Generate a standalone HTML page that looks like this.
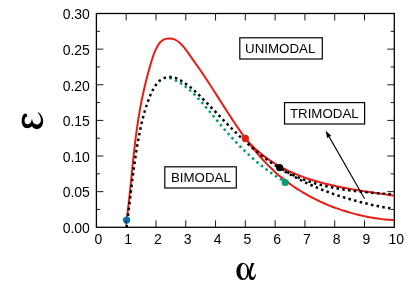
<!DOCTYPE html>
<html><head><meta charset="utf-8"><title>Phase diagram</title>
<style>
html,body{margin:0;padding:0;background:#fff;}
body{width:415px;height:291px;overflow:hidden;font-family:"Liberation Sans",sans-serif;}
svg{display:block;transform:translateZ(0);will-change:transform;}
svg text{font-family:"Liberation Sans",sans-serif;fill:#000;}
.sym{font-family:"Liberation Serif",serif;}
</style></head><body>
<svg width="415" height="291" viewBox="0 0 415 291">
<rect width="415" height="291" fill="#fff"/>
<g fill="none" stroke="#e81c12" stroke-width="2" stroke-linejoin="round">
<path d="M126.60 220.10 C126.70 219.35 127.00 217.11 127.20 215.61 C127.39 214.11 127.58 212.61 127.76 211.11 C127.95 209.61 128.13 208.11 128.31 206.61 C128.48 205.11 128.66 203.60 128.83 202.10 C129.00 200.60 129.16 199.09 129.33 197.59 C129.49 196.09 129.65 194.58 129.81 193.07 C129.97 191.57 130.13 190.06 130.29 188.56 C130.44 187.05 130.60 185.54 130.75 184.04 C130.90 182.53 131.05 181.02 131.21 179.51 C131.36 178.01 131.51 176.50 131.66 174.99 C131.81 173.48 131.96 171.97 132.12 170.47 C132.27 168.96 132.42 167.45 132.58 165.94 C132.73 164.44 132.88 162.93 133.04 161.42 C133.20 159.91 133.36 158.41 133.52 156.90 C133.68 155.39 133.84 153.89 134.01 152.38 C134.17 150.88 134.34 149.37 134.51 147.86 C134.68 146.36 134.86 144.86 135.04 143.35 C135.22 141.85 135.40 140.35 135.59 138.84 C135.77 137.34 135.96 135.84 136.16 134.34 C136.36 132.84 136.56 131.34 136.76 129.84 C136.97 128.34 137.18 126.84 137.40 125.35 C137.62 123.85 137.84 122.36 138.07 120.86 C138.31 119.37 138.54 117.88 138.79 116.38 C139.03 114.89 139.28 113.40 139.54 111.91 C139.80 110.42 140.07 108.94 140.34 107.45 C140.61 105.96 140.90 104.48 141.18 103.00 C141.47 101.51 141.77 100.03 142.07 98.55 C142.38 97.07 142.69 95.59 143.01 94.12 C143.33 92.64 143.66 91.16 143.99 89.69 C144.33 88.22 144.67 86.74 145.02 85.27 C145.37 83.80 145.73 82.34 146.10 80.87 C146.46 79.40 146.84 77.94 147.22 76.47 C147.60 75.01 147.99 73.55 148.39 72.09 C148.79 70.63 149.20 69.17 149.61 67.72 C150.03 66.26 150.45 64.81 150.88 63.36 C151.31 61.90 151.74 60.45 152.20 59.01 C152.66 57.56 153.12 56.12 153.65 54.69 C154.17 53.25 154.72 51.83 155.36 50.42 C156.00 49.01 156.68 47.59 157.48 46.24 C158.29 44.89 159.14 43.42 160.19 42.30 C161.23 41.19 162.44 40.18 163.74 39.54 C165.04 38.90 166.56 38.56 168.01 38.44 C169.46 38.32 171.03 38.49 172.46 38.83 C173.89 39.17 175.28 39.77 176.58 40.50 C177.87 41.22 179.06 42.17 180.21 43.18 C181.36 44.19 182.42 45.38 183.45 46.58 C184.49 47.79 185.45 49.11 186.41 50.41 C187.36 51.70 188.27 53.06 189.17 54.35 C190.08 55.64 190.96 56.92 191.84 58.16 C192.72 59.41 193.58 60.62 194.44 61.83 C195.30 63.04 196.14 64.23 196.99 65.42 C197.83 66.62 198.67 67.80 199.50 69.00 C200.34 70.20 201.17 71.41 201.99 72.63 C202.82 73.84 203.64 75.07 204.47 76.30 C205.29 77.52 206.11 78.76 206.92 80.00 C207.74 81.24 208.55 82.49 209.37 83.75 C210.18 85.00 210.99 86.26 211.81 87.52 C212.62 88.78 213.43 90.04 214.24 91.31 C215.05 92.58 215.86 93.86 216.67 95.13 C217.48 96.40 218.30 97.68 219.11 98.96 C219.92 100.24 220.74 101.52 221.55 102.80 C222.37 104.08 223.19 105.37 224.01 106.65 C224.83 107.93 225.65 109.21 226.48 110.50 C227.30 111.78 228.13 113.06 228.96 114.34 C229.79 115.62 230.63 116.89 231.47 118.17 C232.31 119.44 233.16 120.72 234.00 121.99 C234.85 123.26 235.71 124.52 236.57 125.78 C237.43 127.05 238.29 128.30 239.16 129.56 C240.04 130.81 240.91 132.06 241.80 133.30 C242.68 134.54 243.57 135.78 244.47 137.01 C245.37 138.24 246.27 139.47 247.19 140.68 C248.10 141.90 249.02 143.11 249.95 144.31 C250.88 145.51 251.82 146.70 252.77 147.89 C253.72 149.07 254.67 150.24 255.64 151.41 C256.61 152.57 257.58 153.73 258.57 154.87 C259.56 156.02 260.56 157.15 261.56 158.28 C262.57 159.40 263.59 160.51 264.62 161.61 C265.65 162.71 266.70 163.79 267.75 164.87 C268.81 165.94 269.87 167.00 270.95 168.05 C272.04 169.09 273.13 170.13 274.23 171.15 C275.34 172.16 276.46 173.17 277.60 174.15 C278.73 175.14 279.88 176.11 281.04 177.07 C282.20 178.03 283.38 178.97 284.56 179.90 C285.75 180.82 286.95 181.73 288.16 182.63 C289.37 183.53 290.60 184.41 291.83 185.27 C293.07 186.14 294.32 186.98 295.58 187.82 C296.84 188.65 298.11 189.47 299.39 190.27 C300.67 191.08 301.96 191.86 303.26 192.63 C304.56 193.41 305.87 194.16 307.19 194.90 C308.52 195.64 309.85 196.37 311.19 197.08 C312.53 197.79 313.87 198.48 315.23 199.16 C316.59 199.83 317.96 200.50 319.33 201.14 C320.70 201.79 322.09 202.42 323.48 203.03 C324.86 203.65 326.26 204.25 327.67 204.83 C329.07 205.41 330.48 205.98 331.90 206.53 C333.32 207.08 334.74 207.62 336.17 208.13 C337.60 208.65 339.04 209.16 340.48 209.64 C341.92 210.13 343.37 210.60 344.82 211.06 C346.27 211.51 347.73 211.95 349.19 212.37 C350.65 212.80 352.11 213.20 353.58 213.60 C355.05 213.99 356.52 214.36 358.00 214.72 C359.48 215.08 360.96 215.42 362.44 215.75 C363.92 216.07 365.41 216.38 366.89 216.68 C368.38 216.97 369.87 217.25 371.36 217.51 C372.85 217.77 374.35 218.02 375.84 218.24 C377.33 218.47 378.83 218.68 380.33 218.88 C381.82 219.08 383.32 219.26 384.82 219.42 C386.31 219.58 387.81 219.73 389.31 219.86 C390.81 219.99 393.05 220.14 393.80 220.20"/>
<path d="M245.40 138.30 C245.87 138.85 247.27 140.51 248.22 141.58 C249.18 142.64 250.15 143.69 251.14 144.71 C252.13 145.73 253.13 146.73 254.14 147.70 C255.16 148.67 256.19 149.63 257.23 150.56 C258.27 151.49 259.33 152.39 260.40 153.28 C261.47 154.17 262.55 155.03 263.65 155.88 C264.75 156.72 265.85 157.55 266.97 158.35 C268.09 159.15 269.23 159.94 270.37 160.70 C271.51 161.47 272.67 162.21 273.83 162.94 C275.00 163.67 276.18 164.37 277.36 165.06 C278.55 165.75 279.75 166.43 280.96 167.08 C282.16 167.73 283.38 168.37 284.61 168.99 C285.83 169.61 287.07 170.22 288.31 170.80 C289.56 171.39 290.81 171.96 292.07 172.52 C293.34 173.07 294.61 173.61 295.88 174.14 C297.16 174.67 298.45 175.18 299.74 175.67 C301.03 176.17 302.33 176.65 303.64 177.12 C304.94 177.59 306.26 178.05 307.58 178.49 C308.90 178.94 310.22 179.37 311.55 179.78 C312.88 180.20 314.22 180.61 315.56 181.00 C316.90 181.40 318.25 181.78 319.60 182.15 C320.95 182.53 322.31 182.89 323.67 183.24 C325.03 183.59 326.39 183.93 327.76 184.27 C329.12 184.60 330.49 184.92 331.87 185.23 C333.24 185.55 334.62 185.85 335.99 186.15 C337.37 186.45 338.75 186.73 340.14 187.01 C341.52 187.30 342.90 187.57 344.29 187.83 C345.67 188.10 347.06 188.36 348.45 188.61 C349.84 188.87 351.22 189.11 352.61 189.36 C354.00 189.60 355.39 189.83 356.78 190.07 C358.17 190.30 359.56 190.52 360.94 190.75 C362.33 190.97 363.72 191.19 365.10 191.40 C366.49 191.61 367.87 191.82 369.25 192.03 C370.63 192.24 372.01 192.45 373.39 192.65 C374.77 192.85 376.14 193.05 377.52 193.25 C378.89 193.45 380.26 193.65 381.62 193.84 C382.99 194.04 384.35 194.23 385.71 194.43 C387.06 194.62 388.42 194.82 389.77 195.01 C391.12 195.21 393.13 195.50 393.80 195.60"/>
</g>
<path d="M169.50 77.80 C169.92 77.96 171.21 78.42 172.04 78.76 C172.88 79.10 173.69 79.47 174.50 79.85 C175.31 80.22 176.10 80.62 176.88 81.04 C177.66 81.45 178.42 81.88 179.18 82.33 C179.93 82.78 180.68 83.24 181.41 83.72 C182.14 84.20 182.86 84.69 183.58 85.20 C184.29 85.71 184.99 86.23 185.68 86.76 C186.37 87.30 187.05 87.84 187.73 88.40 C188.40 88.96 189.07 89.53 189.72 90.10 C190.38 90.68 191.03 91.27 191.67 91.87 C192.31 92.47 192.95 93.07 193.58 93.69 C194.21 94.30 194.83 94.93 195.45 95.56 C196.07 96.19 196.68 96.82 197.28 97.46 C197.89 98.11 198.49 98.75 199.09 99.40 C199.69 100.06 200.29 100.71 200.88 101.37 C201.47 102.03 202.06 102.70 202.65 103.36 C203.23 104.03 203.81 104.70 204.40 105.37 C204.98 106.04 205.55 106.71 206.13 107.39 C206.71 108.06 207.28 108.74 207.86 109.42 C208.43 110.10 209.00 110.78 209.57 111.46 C210.14 112.15 210.71 112.83 211.28 113.52 C211.85 114.20 212.41 114.89 212.98 115.57 C213.55 116.26 214.11 116.95 214.68 117.64 C215.25 118.32 215.81 119.01 216.38 119.70 C216.95 120.39 217.52 121.07 218.08 121.76 C218.65 122.45 219.22 123.14 219.79 123.82 C220.36 124.51 220.93 125.19 221.50 125.87 C222.08 126.56 222.65 127.24 223.22 127.92 C223.80 128.60 224.38 129.28 224.96 129.96 C225.54 130.63 226.12 131.31 226.70 131.98 C227.29 132.65 227.87 133.32 228.46 133.99 C229.05 134.66 229.65 135.32 230.24 135.98 C230.84 136.64 231.44 137.30 232.04 137.96 C232.64 138.62 233.24 139.27 233.85 139.92 C234.46 140.57 235.07 141.22 235.68 141.86 C236.29 142.51 236.90 143.15 237.52 143.79 C238.14 144.43 238.76 145.07 239.39 145.70 C240.01 146.33 240.64 146.96 241.27 147.59 C241.90 148.21 242.53 148.84 243.16 149.46 C243.80 150.08 244.44 150.69 245.08 151.31 C245.72 151.92 246.37 152.53 247.01 153.14 C247.66 153.74 248.31 154.35 248.97 154.94 C249.62 155.54 250.28 156.14 250.94 156.73 C251.60 157.32 252.26 157.91 252.92 158.50 C253.59 159.08 254.26 159.66 254.93 160.24 C255.60 160.82 256.28 161.39 256.96 161.96 C257.64 162.53 258.32 163.10 259.00 163.66 C259.69 164.22 260.38 164.78 261.07 165.33 C261.76 165.88 262.45 166.43 263.15 166.98 C263.85 167.52 264.55 168.07 265.26 168.60 C265.96 169.14 266.67 169.67 267.38 170.20 C268.09 170.73 268.81 171.25 269.52 171.77 C270.24 172.29 270.96 172.81 271.69 173.32 C272.41 173.83 273.14 174.33 273.87 174.84 C274.60 175.34 275.34 175.83 276.07 176.33 C276.81 176.82 277.55 177.31 278.30 177.79 C279.04 178.27 279.79 178.75 280.54 179.22 C281.30 179.69 282.05 180.16 282.81 180.63 C283.57 181.09 284.72 181.77 285.10 182.00" fill="none" stroke="#009e73" stroke-width="2.5" stroke-dasharray="2.5 3.3"/>
<g fill="none" stroke="#000" stroke-width="2.5" stroke-dasharray="2.5 3.3">
<path d="M126.60 227.30 C126.67 226.76 126.87 225.13 127.01 224.04 C127.15 222.96 127.28 221.87 127.42 220.78 C127.55 219.69 127.68 218.60 127.82 217.51 C127.95 216.41 128.08 215.32 128.21 214.22 C128.34 213.13 128.48 212.03 128.61 210.93 C128.74 209.83 128.87 208.74 129.00 207.64 C129.13 206.54 129.26 205.43 129.39 204.33 C129.52 203.23 129.64 202.13 129.77 201.02 C129.90 199.92 130.03 198.82 130.16 197.71 C130.29 196.61 130.43 195.50 130.56 194.39 C130.69 193.29 130.82 192.18 130.95 191.07 C131.08 189.97 131.22 188.86 131.35 187.75 C131.48 186.65 131.62 185.54 131.75 184.43 C131.89 183.32 132.03 182.22 132.17 181.11 C132.30 180.00 132.44 178.89 132.58 177.79 C132.72 176.68 132.87 175.57 133.01 174.46 C133.15 173.36 133.30 172.25 133.44 171.14 C133.59 170.04 133.74 168.93 133.89 167.83 C134.04 166.72 134.19 165.62 134.35 164.52 C134.50 163.41 134.66 162.31 134.82 161.21 C134.98 160.11 135.14 159.00 135.30 157.90 C135.47 156.80 135.63 155.70 135.80 154.61 C135.97 153.51 136.14 152.41 136.31 151.32 C136.49 150.22 136.67 149.13 136.85 148.03 C137.03 146.94 137.21 145.85 137.39 144.76 C137.58 143.67 137.77 142.58 137.96 141.50 C138.16 140.41 138.35 139.32 138.55 138.24 C138.75 137.16 138.95 136.08 139.16 135.00 C139.37 133.92 139.58 132.84 139.79 131.76 C140.01 130.69 140.23 129.61 140.45 128.54 C140.68 127.47 140.91 126.40 141.14 125.33 C141.38 124.26 141.62 123.19 141.88 122.12 C142.13 121.06 142.39 119.99 142.65 118.92 C142.92 117.86 143.20 116.79 143.48 115.73 C143.77 114.66 144.06 113.60 144.37 112.54 C144.67 111.47 144.99 110.41 145.32 109.35 C145.64 108.28 145.98 107.22 146.33 106.16 C146.69 105.09 147.05 104.03 147.43 102.97 C147.80 101.90 148.19 100.84 148.60 99.77 C149.00 98.71 149.42 97.64 149.86 96.57 C150.29 95.51 150.74 94.43 151.21 93.37 C151.68 92.32 152.17 91.26 152.69 90.23 C153.21 89.21 153.75 88.20 154.33 87.24 C154.91 86.27 155.52 85.34 156.17 84.46 C156.82 83.59 157.51 82.76 158.25 82.00 C158.99 81.25 159.77 80.54 160.61 79.94 C161.45 79.33 162.34 78.79 163.29 78.35 C164.23 77.92 165.26 77.57 166.30 77.33 C167.34 77.09 168.45 76.94 169.54 76.91 C170.63 76.88 171.76 76.96 172.85 77.15 C173.93 77.34 175.01 77.67 176.05 78.07 C177.09 78.47 178.09 79.01 179.08 79.54 C180.07 80.07 181.04 80.67 181.99 81.26 C182.94 81.85 183.87 82.46 184.78 83.09 C185.70 83.72 186.60 84.37 187.49 85.03 C188.37 85.70 189.24 86.38 190.10 87.07 C190.96 87.76 191.81 88.47 192.65 89.19 C193.48 89.91 194.31 90.64 195.12 91.38 C195.94 92.12 196.75 92.87 197.55 93.63 C198.35 94.39 199.14 95.16 199.93 95.93 C200.72 96.70 201.51 97.49 202.29 98.27 C203.07 99.05 203.84 99.85 204.62 100.64 C205.39 101.43 206.16 102.22 206.94 103.02 C207.71 103.82 208.48 104.61 209.25 105.41 C210.02 106.21 210.80 107.01 211.57 107.81 C212.34 108.61 213.11 109.41 213.88 110.21 C214.65 111.01 215.42 111.81 216.20 112.61 C216.97 113.42 217.74 114.22 218.51 115.02 C219.29 115.82 220.06 116.62 220.84 117.42 C221.61 118.22 222.39 119.02 223.16 119.82 C223.94 120.62 224.72 121.41 225.50 122.21 C226.28 123.01 227.06 123.80 227.84 124.59 C228.62 125.39 229.40 126.18 230.19 126.97 C230.98 127.75 231.76 128.54 232.55 129.33 C233.34 130.11 234.13 130.89 234.93 131.67 C235.72 132.45 236.52 133.23 237.31 134.00 C238.11 134.78 238.91 135.55 239.72 136.31 C240.52 137.08 241.33 137.85 242.14 138.61 C242.95 139.37 243.76 140.12 244.57 140.87 C245.39 141.63 246.21 142.37 247.03 143.12 C247.85 143.86 248.68 144.60 249.51 145.33 C250.34 146.07 251.17 146.80 252.01 147.52 C252.84 148.25 253.68 148.97 254.53 149.68 C255.37 150.39 256.22 151.10 257.08 151.81 C257.93 152.51 258.79 153.20 259.65 153.90 C260.51 154.59 261.38 155.27 262.25 155.95 C263.12 156.63 264.00 157.30 264.88 157.96 C265.76 158.63 266.65 159.28 267.54 159.94 C268.43 160.59 269.33 161.23 270.23 161.87 C271.13 162.51 272.04 163.14 272.95 163.76 C273.86 164.38 274.78 165.00 275.70 165.61 C276.62 166.22 277.55 166.83 278.48 167.43 C279.40 168.02 280.34 168.61 281.28 169.20 C282.21 169.78 283.16 170.36 284.10 170.93 C285.05 171.50 286.00 172.07 286.96 172.62 C287.91 173.18 288.87 173.73 289.83 174.28 C290.80 174.82 291.76 175.36 292.73 175.90 C293.71 176.43 294.68 176.95 295.66 177.47 C296.64 177.99 297.62 178.51 298.60 179.01 C299.59 179.52 300.58 180.02 301.57 180.52 C302.56 181.01 303.56 181.50 304.56 181.98 C305.56 182.46 306.56 182.94 307.57 183.41 C308.57 183.88 309.58 184.34 310.59 184.80 C311.61 185.26 312.62 185.71 313.64 186.15 C314.66 186.60 315.68 187.04 316.70 187.47 C317.72 187.91 318.75 188.33 319.78 188.75 C320.81 189.18 321.84 189.59 322.88 190.00 C323.91 190.41 324.95 190.81 325.99 191.21 C327.03 191.61 328.07 192.00 329.11 192.39 C330.16 192.77 331.20 193.15 332.25 193.53 C333.30 193.90 334.35 194.27 335.40 194.63 C336.46 194.99 337.51 195.35 338.57 195.70 C339.62 196.05 340.68 196.40 341.74 196.74 C342.80 197.08 343.87 197.41 344.93 197.74 C345.99 198.07 347.06 198.39 348.13 198.71 C349.19 199.03 350.26 199.34 351.33 199.65 C352.40 199.95 353.47 200.25 354.55 200.55 C355.62 200.84 356.69 201.13 357.77 201.42 C358.84 201.70 359.92 201.98 361.00 202.26 C362.07 202.53 363.15 202.80 364.23 203.06 C365.31 203.32 366.39 203.58 367.47 203.83 C368.55 204.09 369.64 204.33 370.72 204.58 C371.80 204.82 372.88 205.05 373.97 205.29 C375.05 205.52 376.13 205.74 377.22 205.96 C378.30 206.18 379.39 206.40 380.47 206.61 C381.56 206.82 382.64 207.03 383.73 207.23 C384.81 207.43 385.90 207.63 386.99 207.82 C388.07 208.01 389.16 208.19 390.24 208.37 C391.33 208.55 392.96 208.81 393.50 208.90"/>
<path d="M279.60 167.60 C280.18 167.96 281.93 169.06 283.10 169.76 C284.28 170.46 285.47 171.14 286.66 171.79 C287.86 172.45 289.06 173.08 290.27 173.69 C291.48 174.30 292.70 174.90 293.93 175.47 C295.16 176.04 296.39 176.59 297.64 177.13 C298.88 177.66 300.13 178.18 301.38 178.67 C302.64 179.17 303.91 179.65 305.18 180.11 C306.45 180.57 307.72 181.02 309.00 181.45 C310.29 181.88 311.58 182.29 312.87 182.68 C314.16 183.08 315.46 183.46 316.77 183.83 C318.07 184.19 319.38 184.54 320.70 184.88 C322.01 185.22 323.33 185.54 324.65 185.86 C325.97 186.17 327.30 186.46 328.63 186.75 C329.96 187.03 331.30 187.31 332.64 187.57 C333.97 187.83 335.31 188.08 336.66 188.32 C338.00 188.56 339.35 188.79 340.70 189.01 C342.05 189.23 343.40 189.44 344.75 189.64 C346.10 189.85 347.46 190.04 348.82 190.22 C350.17 190.41 351.53 190.58 352.89 190.75 C354.25 190.92 355.61 191.08 356.97 191.24 C358.33 191.39 359.69 191.54 361.05 191.69 C362.41 191.83 363.77 191.97 365.13 192.10 C366.49 192.24 367.85 192.36 369.21 192.49 C370.57 192.62 371.93 192.74 373.29 192.85 C374.65 192.97 376.00 193.09 377.36 193.20 C378.71 193.31 380.07 193.42 381.42 193.53 C382.77 193.64 384.11 193.75 385.46 193.86 C386.81 193.96 388.15 194.07 389.49 194.18 C390.83 194.29 392.83 194.45 393.50 194.50" stroke-dashoffset="-3"/>
</g>
<rect x="239.8" y="37.8" width="82.50" height="21.20" fill="#fff" stroke="#000" stroke-width="1.2"/><text x="280.20" y="53.40" text-anchor="middle" font-size="13.3">UNIMODAL</text>
<rect x="284.55" y="102.6" width="80.05" height="21.40" fill="#fff" stroke="#000" stroke-width="1.2"/><text x="324.30" y="117.60" text-anchor="middle" font-size="13.3">TRIMODAL</text>
<rect x="164.8" y="166.8" width="71.50" height="21.20" fill="#fff" stroke="#000" stroke-width="1.2"/><text x="200.90" y="181.50" text-anchor="middle" font-size="13.3">BIMODAL</text>
<path d="M364.6 198.8 L329.18 136.88" stroke="#000" stroke-width="1.1" fill="none"/><path d="M325.7 130.8 L327.09 138.07 L331.26 135.68 Z" fill="#000"/>
<circle cx="126.6" cy="220.1" r="3.6" fill="#0072b8"/>
<circle cx="245.4" cy="138.3" r="3.6" fill="#e81c12"/>
<circle cx="285.2" cy="182.5" r="3.6" fill="#009e73"/>
<circle cx="279.6" cy="167.6" r="3.6" fill="#000"/>
<path d="M126.19 227.3 v-7.0 M126.19 13.5 v7.0 M155.98 227.3 v-7.0 M155.98 13.5 v7.0 M185.77 227.3 v-7.0 M185.77 13.5 v7.0 M215.56 227.3 v-7.0 M215.56 13.5 v7.0 M245.35 227.3 v-7.0 M245.35 13.5 v7.0 M275.14 227.3 v-7.0 M275.14 13.5 v7.0 M304.93 227.3 v-7.0 M304.93 13.5 v7.0 M334.72 227.3 v-7.0 M334.72 13.5 v7.0 M364.51 227.3 v-7.0 M364.51 13.5 v7.0 M96.4 209.48 h3.6 M394.3 209.48 h-3.6 M96.4 191.67 h7.0 M394.3 191.67 h-7.0 M96.4 173.85 h3.6 M394.3 173.85 h-3.6 M96.4 156.03 h7.0 M394.3 156.03 h-7.0 M96.4 138.22 h3.6 M394.3 138.22 h-3.6 M96.4 120.40 h7.0 M394.3 120.40 h-7.0 M96.4 102.58 h3.6 M394.3 102.58 h-3.6 M96.4 84.77 h7.0 M394.3 84.77 h-7.0 M96.4 66.95 h3.6 M394.3 66.95 h-3.6 M96.4 49.13 h7.0 M394.3 49.13 h-7.0 M96.4 31.32 h3.6 M394.3 31.32 h-3.6" stroke="#000" stroke-width="0.9" fill="none"/>
<rect x="96.4" y="13.5" width="297.90" height="213.80" fill="none" stroke="#000" stroke-width="1.3"/>
<g font-size="14"><text x="98.40" y="244.4" text-anchor="middle">0</text><text x="128.19" y="244.4" text-anchor="middle">1</text><text x="157.98" y="244.4" text-anchor="middle">2</text><text x="187.77" y="244.4" text-anchor="middle">3</text><text x="217.56" y="244.4" text-anchor="middle">4</text><text x="247.35" y="244.4" text-anchor="middle">5</text><text x="277.14" y="244.4" text-anchor="middle">6</text><text x="306.93" y="244.4" text-anchor="middle">7</text><text x="336.72" y="244.4" text-anchor="middle">8</text><text x="366.51" y="244.4" text-anchor="middle">9</text><text x="396.30" y="244.4" text-anchor="middle">10</text><text x="89.9" y="233.10" text-anchor="end">0.00</text><text x="89.9" y="197.47" text-anchor="end">0.05</text><text x="89.9" y="161.83" text-anchor="end">0.10</text><text x="89.9" y="126.20" text-anchor="end">0.15</text><text x="89.9" y="90.57" text-anchor="end">0.20</text><text x="89.9" y="54.93" text-anchor="end">0.25</text><text x="89.9" y="19.30" text-anchor="end">0.30</text></g>
<g transform="translate(230,256) scale(0.09615)" fill="#000">
<path fill-rule="evenodd" d="M66 160 A67 89 0 1 0 200 160 A67 89 0 1 0 66 160 Z M108 159 A35 76 0 1 0 178 159 A35 76 0 1 0 108 159 Z"/>
<path d="M253 72 L223 72 C212 110 202 140 195 165 C192 185 192 205 197 224 C203 249 224 253 241 249 C258 243 268 215 271 190 L263 190 C258 206 250 219 239 221 C228 223 220 213 218 195 C217 160 235 110 253 72 Z"/>
</g>
<g transform="translate(16,106) scale(0.09615)" fill="#000">
<path d="M232 64 C264 84 284 120 283 160 C282 206 251 240 215 240 C192 240 175 227 166 208 C155 224 135 232 112 230 C80 228 59 196 59 155 C59 120 71 92 87 81 C100 74 116 83 116 98 C116 112 106 118 98 116 C92 130 88 146 90 160 C93 178 106 189 124 189 C146 189 160 170 166 130 C171 170 187 192 215 192 C240 192 259 172 259 148 C259 115 247 90 226 70 Z"/>
</g>
</svg>
</body></html>
